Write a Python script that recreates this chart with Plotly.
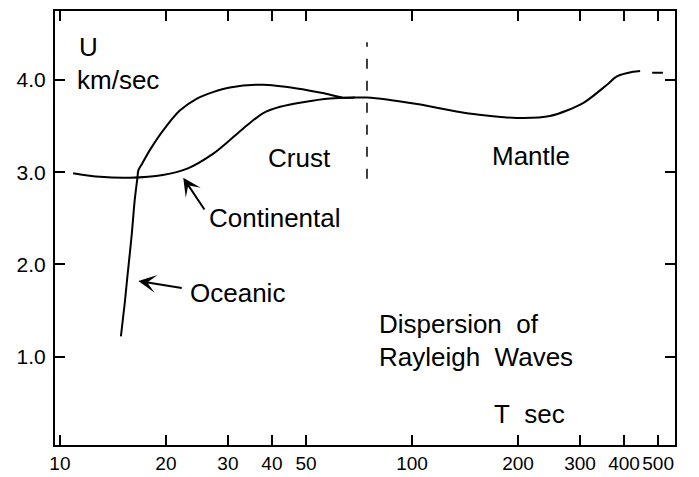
import math
import plotly.graph_objects as go

# Period T (s) and group velocity U (km/s)
cont_T = [10.9, 13.0, 15.8, 19.6, 23.0, 27.2, 30.4, 34.0, 37.7, 42.2, 49.0, 58.5, 68.9]
cont_U = [2.99, 2.95, 2.94, 2.97, 3.04, 3.20, 3.35, 3.51, 3.64, 3.71, 3.76, 3.80, 3.81]

ocean_T = [14.9, 15.3, 15.5, 16.0, 16.3, 16.6, 16.7, 17.1, 18.0, 19.6, 21.9, 24.5, 27.2, 30.4, 37.7, 47.1, 55.8, 63.7, 68.9]
ocean_U = [1.22, 1.60, 1.82, 2.33, 2.69, 2.94, 3.02, 3.09, 3.24, 3.45, 3.67, 3.80, 3.87, 3.92, 3.95, 3.91, 3.86, 3.81, 3.81]

mantle_T = [68.9, 74.5, 103.3, 143.3, 198.7, 246.5, 306.0, 358.0, 382.0, 424.6, 444.6]
mantle_U = [3.81, 3.81, 3.74, 3.64, 3.59, 3.61, 3.75, 3.95, 4.04, 4.09, 4.10]

tail_T = [481, 516]
tail_U = [4.08, 4.08]

divider_T = [74.5, 74.5]
divider_U = [2.93, 4.41]

tick_T = [10, 20, 30, 40, 50, 100, 200, 300, 400, 500]
tick_U = [1.0, 2.0, 3.0, 4.0]

FONT = "Liberation Sans, Arial, Helvetica, sans-serif"
line = dict(color="black", width=2, shape="spline", smoothing=0.8)

fig = go.Figure()
fig.add_trace(go.Scatter(x=cont_T, y=cont_U, mode="lines", line=line, hoverinfo="skip"))
fig.add_trace(go.Scatter(x=ocean_T, y=ocean_U, mode="lines", line=line, hoverinfo="skip"))
fig.add_trace(go.Scatter(x=mantle_T, y=mantle_U, mode="lines", line=line, hoverinfo="skip"))
fig.add_trace(go.Scatter(x=tail_T, y=tail_U, mode="lines", line=dict(color="black", width=2), hoverinfo="skip"))
fig.add_trace(go.Scatter(x=divider_T, y=divider_U, mode="lines",
                         line=dict(color="black", width=1.5, dash="10px,12px"), hoverinfo="skip"))


def lx(v):
    return math.log10(v)


txt = dict(family=FONT, size=26, color="black")
annotations = [
    dict(x=lx(48), y=3.16, text="Crust", showarrow=False, font=txt),
    dict(x=lx(218), y=3.18, text="Mantle", showarrow=False, font=txt),
    dict(x=lx(26.2), y=2.50, text="Continental", showarrow=False, xanchor="left", font=txt),
    dict(x=lx(23.1), y=1.69, text="Oceanic", showarrow=False, xanchor="left", font=txt),
    dict(x=lx(79.5), y=1.35, text="Dispersion&nbsp;&nbsp;of", showarrow=False, xanchor="left", font=txt),
    dict(x=lx(79.5), y=1.00, text="Rayleigh&nbsp;&nbsp;Waves", showarrow=False, xanchor="left", font=txt),
    dict(x=lx(216), y=0.38, text="T&nbsp;&nbsp;sec", showarrow=False, font=txt),
    dict(x=lx(11.2), y=4.36, text="U", showarrow=False, xanchor="left", font=txt),
    dict(x=lx(11.0), y=4.00, text="km/sec", showarrow=False, xanchor="left", font=txt),
    # arrows
    dict(x=lx(22.4), y=2.94, ax=lx(25.9), ay=2.58, xref="x", yref="y", axref="x", ayref="y",
         text="", showarrow=True, arrowhead=3, arrowsize=1.5, arrowwidth=2, arrowcolor="black"),
    dict(x=lx(16.7), y=1.82, ax=lx(22.4), ay=1.74, xref="x", yref="y", axref="x", ayref="y",
         text="", showarrow=True, arrowhead=3, arrowsize=1.5, arrowwidth=2, arrowcolor="black"),
]

fig.update_layout(
    width=691, height=469,
    margin=dict(l=47, r=24, t=3, b=32, autoexpand=False),
    paper_bgcolor="white", plot_bgcolor="white",
    showlegend=False,
    font=dict(family=FONT, size=20, color="black"),
    annotations=annotations,
    xaxis=dict(type="log", range=[0.986, 2.747], tickvals=tick_T,
               ticktext=[str(v) for v in tick_T], tickangle=0,
               ticks="inside", ticklen=10, tickwidth=2, tickcolor="black",
               showline=True, linecolor="black", linewidth=2, mirror="ticks",
               showgrid=False, zeroline=False, automargin=False,
               tickfont=dict(family=FONT, size=19)),
    yaxis=dict(range=[0.04, 4.75], tickvals=tick_U,
               ticktext=[f"{v:.1f}" for v in tick_U],
               ticks="inside", ticklen=10, tickwidth=2, tickcolor="black",
               showline=True, linecolor="black", linewidth=2, mirror="ticks",
               showgrid=False, zeroline=False, automargin=False,
               ticklabelstandoff=3,
               tickfont=dict(family=FONT, size=21)),
)

fig.write_html("out.html")
